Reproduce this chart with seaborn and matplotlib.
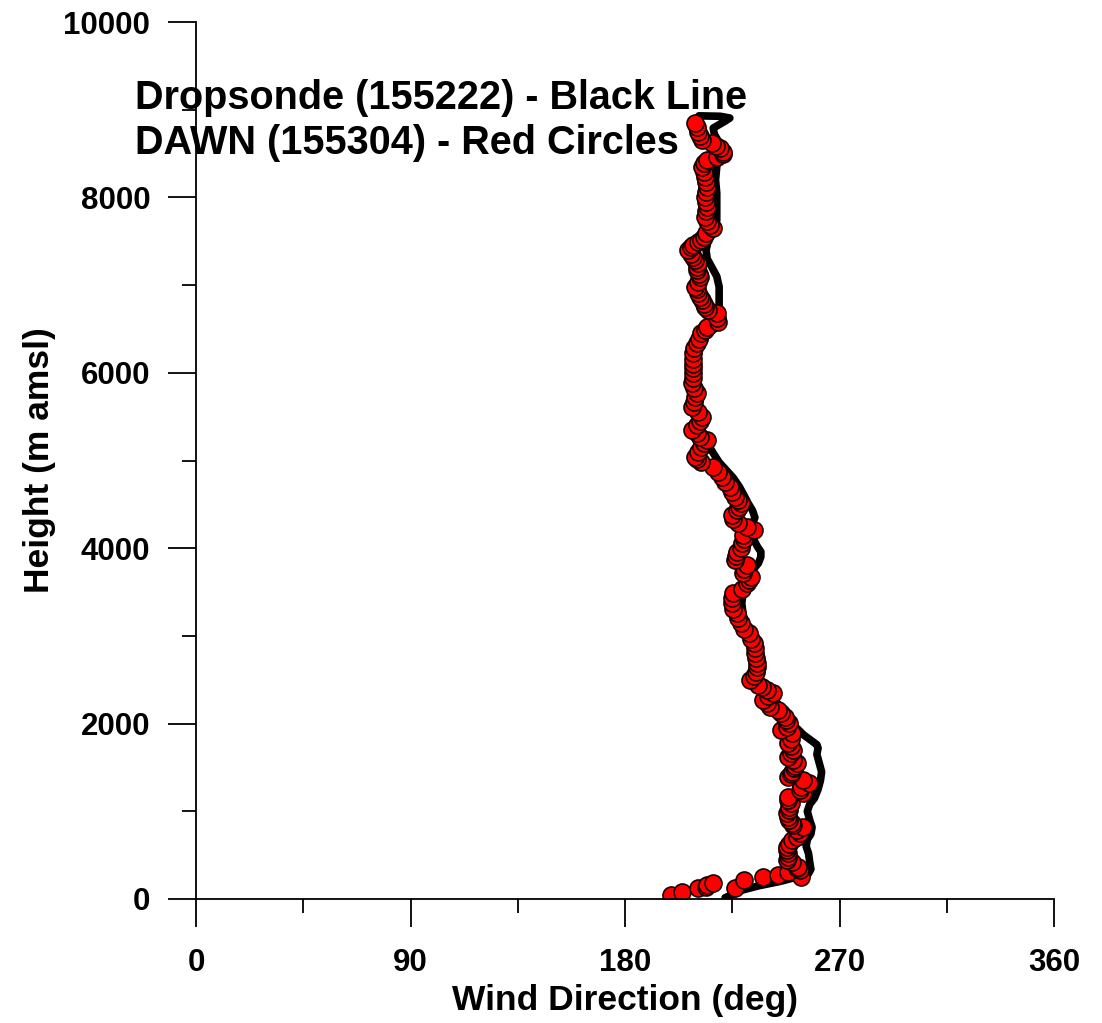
import numpy as np
import pandas as pd
import matplotlib
matplotlib.use("Agg")
import matplotlib.pyplot as plt
from matplotlib.ticker import MultipleLocator
import seaborn as sns

# ---------------- data ----------------
# Dropsonde profile (black line): height (m amsl) and wind direction (deg)
sonde_height = [15, 60, 100, 150, 200, 250, 290, 340, 420, 520, 600, 680, 740, 820,
                900, 1000, 1080, 1150, 1250, 1350, 1450, 1550, 1650, 1720, 1760, 1800,
                1870, 1950, 2050, 2150, 2250, 2380, 2500, 2600, 2750, 2900, 3000, 3080,
                3150, 3250, 3375, 3480, 3600, 3700, 3780, 3830, 3900, 3960, 4020, 4100,
                4200, 4280, 4350, 4430, 4520, 4600, 4700, 4800, 4890, 4980, 5085, 5200,
                5300, 5400, 5500, 5600, 5700, 5800, 5920, 6070, 6200, 6300, 6420, 6500,
                6600, 6700, 6830, 6980, 7100, 7200, 7300, 7400, 7514, 7628, 7742, 7890,
                8050, 8200, 8350, 8464, 8563, 8650, 8720, 8790, 8870, 8905, 8925, 8930]
sonde_dir = [222, 226, 229, 236, 245, 252, 257, 258, 257.5, 257, 256, 256.5, 258, 258.5,
             257.5, 256.5, 257.5, 259.5, 261, 262, 262.5, 261.5, 260.5, 261, 260.5, 258.5,
             255, 252, 248.5, 246, 243.5, 240, 237, 235.5, 234.5, 234.5, 234, 232,
             230.5, 229.5, 229, 229.5, 230.5, 232, 234.5, 236, 237, 237, 235.5, 234,
             233, 233.5, 234.5, 233.5, 231.5, 230, 228, 225.5, 222.5, 219.5, 217, 214.5,
             212, 210.5, 210, 209.5, 209.5, 209.5, 209.5, 209.5, 210, 211.5, 214, 217.5,
             219.5, 219.5, 219.5, 219.5, 218.5, 216.5, 214.5, 214, 215, 217.5, 218.5, 218.5,
             218.5, 218, 218.5, 219.5, 220.5, 219, 217.5, 217, 222, 224, 220, 211]

# DAWN profile (red circles): height (m amsl) and wind direction (deg)
dawn_height = [46, 84, 121, 125, 141, 160, 182, 217, 251, 251, 274, 308, 331, 349, 368,
               424, 445, 480, 520, 560, 595, 630, 672, 710, 753, 790, 824, 844, 870, 901,
               940, 981, 1015, 1052, 1090, 1130, 1167, 1209, 1243, 1280, 1323, 1357, 1394,
               1420, 1451, 1490, 1520, 1551, 1590, 1622, 1660, 1699, 1740, 1779, 1830,
               1893, 1927, 1965, 2007, 2040, 2079, 2120, 2155, 2193, 2230, 2269, 2310,
               2345, 2383, 2420, 2440, 2497, 2540, 2590, 2640, 2691, 2750, 2805, 2860,
               2919, 2960, 3029, 3080, 3143, 3200, 3257, 3310, 3371, 3430, 3485, 3540,
               3600, 3640, 3675, 3713, 3760, 3808, 3865, 3910, 3960, 4000, 4060, 4110,
               4150, 4207, 4240, 4283, 4330, 4378, 4430, 4470, 4511, 4550, 4587, 4640,
               4701, 4760, 4815, 4870, 4929, 4986, 5020, 5043, 5100, 5150, 5200, 5234,
               5270, 5310, 5348, 5400, 5450, 5498, 5550, 5612, 5670, 5720, 5770, 5830,
               5883, 5940, 5997, 6050, 6100, 6160, 6225, 6280, 6336, 6390, 6450, 6490,
               6525, 6582, 6630, 6678, 6720, 6754, 6790, 6830, 6870, 6906, 6950, 6982,
               7040, 7096, 7130, 7172, 7210, 7248, 7290, 7324, 7360, 7400, 7430, 7457,
               7490, 7514, 7550, 7590, 7650, 7685, 7730, 7780, 7840, 7894, 7950, 8008,
               8060, 8122, 8180, 8236, 8290, 8350, 8390, 8426, 8464, 8500, 8520, 8559,
               8590, 8616, 8654, 8700, 8749, 8800, 8844]
dawn_dir = [199.5, 204, 226, 210.5, 214, 214.5, 217, 230, 238, 254, 244, 248.5, 253.5, 252, 252.5,
            250, 248, 248.5, 248.5, 248, 248, 249, 250, 252, 253.5, 252, 254.5, 250.5, 250, 249,
            248.5, 248, 249, 249, 249.5, 248.5, 248.5, 254.5, 253.5, 254, 257, 254.5, 248.5,
            249.5, 250, 251, 251.5, 252, 250.5, 248.5, 249.5, 250.5, 249.5, 248.5, 249.5,
            250, 245.5, 248, 249, 247.5, 247, 245.5, 244, 241, 239.5, 238, 240,
            242, 239.5, 237.5, 236, 232.5, 234, 235, 235.5, 235.5, 235, 234.5, 234.5,
            234, 233, 232, 230, 228.5, 227.5, 227, 225.5, 225, 225, 225.5, 229,
            231, 232, 233, 229.5, 230, 231, 226, 226.5, 227, 228.5, 229, 230,
            229.5, 234, 231, 227.5, 225.5, 225, 227, 228, 228.5, 227.5, 226, 225,
            224, 222, 220.5, 219, 217, 212, 210, 209.5, 210.5, 212, 213, 214.5,
            211.5, 210, 208, 210, 211.5, 212.5, 210.5, 208, 209, 209.5, 210, 209,
            208, 208.5, 208.5, 208.5, 208.5, 208.5, 208.5, 209, 210, 211, 212, 213.5,
            214.5, 219, 218.5, 218.5, 215, 213.5, 213, 212.5, 211.5, 210.5, 210, 209.5,
            210.5, 211.5, 211, 210, 210, 210.5, 209.5, 208.5, 207.5, 206.5, 207.5, 208.5,
            210.5, 212, 213, 214, 217, 215.5, 214.5, 213.5, 214, 214.5, 214, 213.5,
            214, 214.5, 214, 213.5, 213, 212.5, 213, 214.5, 218.5, 221, 221, 220,
            218, 216.5, 212.5, 211.5, 210.5, 210, 209.5]

x_ticks = [0, 90, 180, 270, 360]
y_ticks = [0, 2000, 4000, 6000, 8000, 10000]
x_label = "Wind Direction (deg)"
y_label = "Height (m amsl)"
note_lines = ["Dropsonde (155222) - Black Line", "DAWN (155304) - Red Circles"]

sonde = pd.DataFrame({"dir": sonde_dir, "height": sonde_height})
dawn = pd.DataFrame({"dir": dawn_dir, "height": dawn_height})

# ---------------- style ----------------
sns.set_theme(style="ticks")
plt.rcParams["font.family"] = ["Liberation Sans", "DejaVu Sans"]
plt.rcParams["font.weight"] = "bold"

fig = plt.figure(figsize=(11.02, 10.23), dpi=100)
ax = fig.add_axes([196 / 1102, 1 - 899 / 1023, 858 / 1102, 877 / 1023])

sns.lineplot(data=sonde, x="dir", y="height", sort=False, estimator=None,
             color="black", linewidth=5.5, ax=ax, zorder=3,
             solid_joinstyle="round", solid_capstyle="round")
sns.scatterplot(data=dawn, x="dir", y="height", color="#ff0000", s=150,
                edgecolor="#140000", linewidth=1.2, marker="o", ax=ax, zorder=4)

ax.set_xlim(0, 360)
ax.set_ylim(0, 10000)
ax.set_xticks(x_ticks)
ax.set_yticks(y_ticks)
ax.xaxis.set_minor_locator(MultipleLocator(45))
ax.yaxis.set_minor_locator(MultipleLocator(1000))
ax.set_xticklabels([str(v) for v in x_ticks])
ax.set_yticklabels([str(v) for v in y_ticks])

for s in ["top", "right"]:
    ax.spines[s].set_visible(False)
for s in ["left", "bottom"]:
    ax.spines[s].set_linewidth(1.3)
    ax.spines[s].set_color("black")
    ax.spines[s].set_zorder(5)

ax.tick_params(axis="both", which="major", direction="out", length=20, width=1.3,
               color="black", labelsize=22.5, labelcolor="black")
ax.tick_params(axis="both", which="minor", direction="out", length=10, width=1.3,
               color="black")
ax.tick_params(axis="x", which="major", pad=15)
ax.tick_params(axis="y", which="major", pad=13)
for lab in ax.get_xticklabels() + ax.get_yticklabels():
    lab.set_fontweight("bold")

ax.set_xlabel(x_label, fontsize=25.5, fontweight="bold", color="black")
ax.set_ylabel(y_label, fontsize=25.5, fontweight="bold", color="black")
ax.xaxis.set_label_coords(0.5, -0.097)
ax.yaxis.set_label_coords(-0.163, 0.5)

ax.text(-0.071, (899 - 109) / 877, note_lines[0], transform=ax.transAxes,
        fontsize=28.5, fontweight="bold", color="black", ha="left", va="baseline", zorder=2)
ax.text(-0.071, (899 - 154) / 877, note_lines[1], transform=ax.transAxes,
        fontsize=28.5, fontweight="bold", color="black", ha="left", va="baseline", zorder=2)

ax.grid(False)
ax.set_facecolor("white")
fig.patch.set_facecolor("white")

fig.savefig("out.png", dpi=100, facecolor="white")
